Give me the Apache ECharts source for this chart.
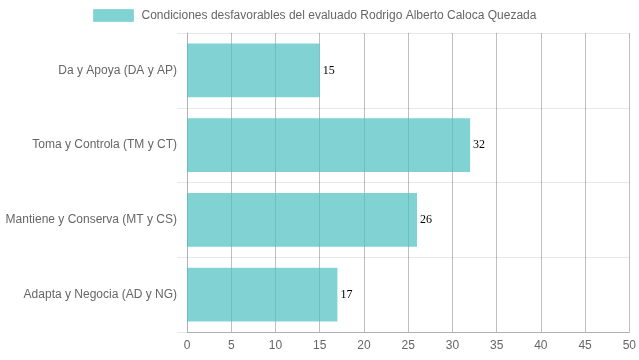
<!DOCTYPE html>
<html><head><meta charset="utf-8">
<script src="https://cdn.jsdelivr.net/npm/echarts@6/dist/echarts.min.js"></script>
<style>html,body{margin:0;padding:0;background:#fff}#c{width:639px;height:360px}</style>
</head><body><div id="c"></div>
<script>
const categories = ["Da y Apoya (DA y AP)", "Toma y Controla (TM y CT)", "Mantiene y Conserva (MT y CS)", "Adapta y Negocia (AD y NG)"];
const values = [15, 32, 26, 17];
const seriesName = "Condiciones desfavorables del evaluado Rodrigo Alberto Caloca Quezada";
const xTicks = {min: 0, max: 50, interval: 5};

const chart = echarts.init(document.getElementById('c'), null, {renderer: 'canvas'});
chart.setOption({
  animation: false,
  textStyle: {fontFamily: 'Liberation Sans, Arial, sans-serif'},
  legend: {
    top: 4, left: 88,
    itemWidth: 40, itemHeight: 12, itemGap: 10,
    icon: 'rect',
    textStyle: {color: '#666', fontSize: 12, padding: [0, 0, 0, 3], fontFamily: 'Liberation Sans, Arial, sans-serif'},
    data: [{name: seriesName, itemStyle: {color: 'rgba(75,192,192,0.7)', borderColor: 'rgba(75,192,192,0.4)', borderWidth: 1}}]
  },
  grid: {left: 187, right: 9, top: 33, bottom: 28, containLabel: false},
  xAxis: {
    type: 'value', min: xTicks.min, max: xTicks.max, interval: xTicks.interval,
    axisLine: {show: true, lineStyle: {color: '#b0b0b0'}},
    axisTick: {show: false},
    axisLabel: {color: '#666', fontSize: 12, margin: 8},
    splitLine: {show: true, lineStyle: {color: 'rgba(0,0,0,0.25)', width: 1}}
  },
  yAxis: {
    type: 'category', data: categories, inverse: true,
    axisLine: {show: true, lineStyle: {color: '#b0b0b0'}},
    axisTick: {show: true, length: 10, lineStyle: {color: '#e8e8e8'}},
    axisLabel: {color: '#666', fontSize: 12, margin: 10},
    splitLine: {show: true, lineStyle: {color: '#e8e8e8'}}
  },
  series: [{
    name: seriesName, type: 'bar', data: values,
    barCategoryGap: '28%',
    itemStyle: {color: 'rgba(75,192,192,0.7)'},
    label: {show: true, position: 'right', distance: 3, color: '#000', fontSize: 12, fontFamily: 'Liberation Serif, Times New Roman, serif'}
  }]
});
</script></body></html>
